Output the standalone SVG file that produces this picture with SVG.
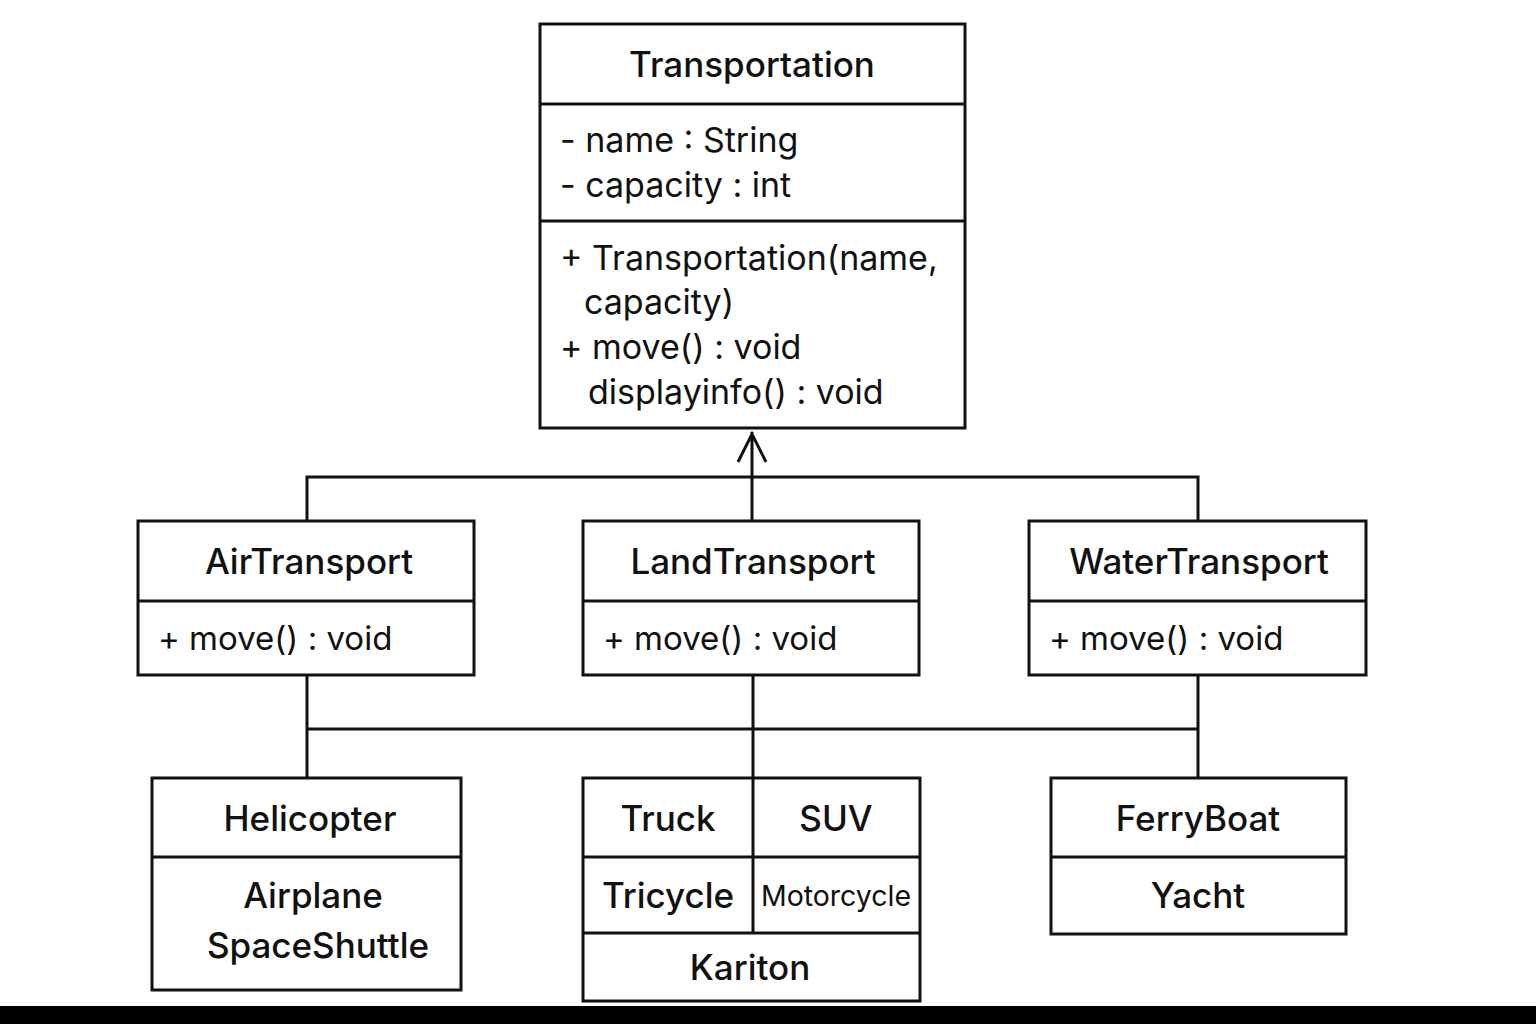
<svg xmlns="http://www.w3.org/2000/svg" width="1536" height="1024" viewBox="0 0 1536 1024">
<style>
.box{fill:#fff;stroke:#111;stroke-width:3}
.ln{stroke:#111;stroke-width:3;fill:none}
text{font-family:Inter,"Noto Sans","DejaVu Sans",sans-serif;fill:#111}
.t{font-size:35px;font-weight:500;text-anchor:middle}
.m{font-size:34px;font-weight:400}
.n{font-size:33px;font-weight:400}
.c{font-size:35px;font-weight:500;text-anchor:middle}
.s{font-size:28.5px;font-weight:400;text-anchor:middle}
</style>
<rect width="1536" height="1024" fill="#fff"/>
<g id="connectors">
<path class="ln" d="M752 521 V432 M738 462 L752 434 L766 462"/>
<path class="ln" d="M307 521 V477 H1198 V521"/>
<path class="ln" d="M307 675 V778 M753 675 V778 M1198 675 V778 M307 729 H1198"/>
</g>
<g id="Transportation">
<rect class="box" x="540" y="24" width="425" height="404"/>
<line class="ln" x1="540" y1="104" x2="965" y2="104"/>
<line class="ln" x1="540" y1="221" x2="965" y2="221"/>
<text class="t" x="752" y="77">Transportation</text>
<text class="m" x="560" y="152">- name : String</text>
<text class="m" x="560" y="197">- capacity : int</text>
<text class="m" x="560" y="270">+ Transportation(name,</text>
<text class="m" x="584" y="314">capacity)</text>
<text class="m" x="560" y="359">+ move() : void</text>
<text class="m" x="588" y="404">displayinfo() : void</text>
</g>
<g id="AirTransport">
<rect class="box" x="138" y="521" width="336" height="154"/>
<line class="ln" x1="138" y1="601" x2="474" y2="601"/>
<text class="t" x="309" y="574">AirTransport</text>
<text class="n" x="158" y="650">+ move() : void</text>
</g>
<g id="LandTransport">
<rect class="box" x="583" y="521" width="336" height="154"/>
<line class="ln" x1="583" y1="601" x2="919" y2="601"/>
<text class="t" x="753" y="574">LandTransport</text>
<text class="n" x="603" y="650">+ move() : void</text>
</g>
<g id="WaterTransport">
<rect class="box" x="1029" y="521" width="337" height="154"/>
<line class="ln" x1="1029" y1="601" x2="1366" y2="601"/>
<text class="t" x="1199" y="574">WaterTransport</text>
<text class="n" x="1049" y="650">+ move() : void</text>
</g>
<g id="AirVehicles">
<rect class="box" x="152" y="778" width="309" height="212"/>
<line class="ln" x1="152" y1="857" x2="461" y2="857"/>
<text class="c" x="310" y="831">Helicopter</text>
<text class="c" x="313" y="908">Airplane</text>
<text class="c" x="318" y="958">SpaceShuttle</text>
</g>
<g id="LandVehicles">
<rect class="box" x="583" y="778" width="337" height="223"/>
<line class="ln" x1="583" y1="857" x2="920" y2="857"/>
<line class="ln" x1="583" y1="933" x2="920" y2="933"/>
<line class="ln" x1="753" y1="778" x2="753" y2="933"/>
<text class="c" x="668" y="831">Truck</text>
<text class="c" x="836" y="831">SUV</text>
<text class="c" x="668" y="908">Tricycle</text>
<text class="s" x="836" y="906">Motorcycle</text>
<text class="c" x="750" y="980">Kariton</text>
</g>
<g id="WaterVehicles">
<rect class="box" x="1051" y="778" width="295" height="156"/>
<line class="ln" x1="1051" y1="857" x2="1346" y2="857"/>
<text class="c" x="1198" y="831">FerryBoat</text>
<text class="c" x="1198" y="908">Yacht</text>
</g>
<rect x="0" y="1006" width="1536" height="18" fill="#000"/>
</svg>
